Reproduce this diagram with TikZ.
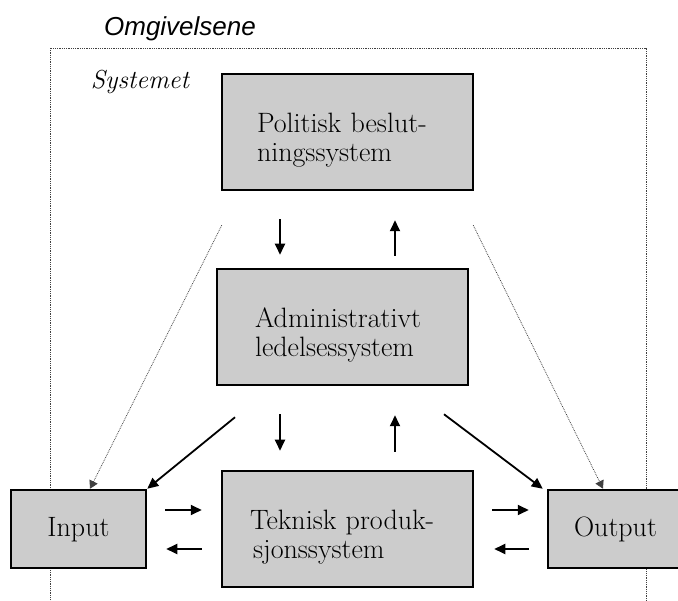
\documentclass[tikz,border=0pt]{standalone}
\usepackage{fontspec}
\newfontfamily\omgfont{Liberation Sans}
\usetikzlibrary{arrows.meta}

\begin{document}
\begin{tikzpicture}[x=1pt,y=-1pt,>={Triangle[length=11pt,width=10pt]},
	blokk/.style={draw,fill=gray!40,line width=2.5pt,minimum width=251pt,minimum height=116pt,inner xsep=0pt,align=left,text height=35pt,font=\fontsize{28}{29}\selectfont},
	endeblokk/.style={blokk,minimum width=135pt,minimum height=78pt,align=center,text height=20pt,text depth=4pt},
	pil/.style={->,line width=1.8pt},
	prikk/.style={-{Triangle[length=8pt,width=9pt]},densely dotted,line width=0.8pt,black!75},
	ramme/.style={densely dotted,line width=0.8pt,black!75}]

\useasboundingbox (0,0) rectangle (678,601);

\draw[ramme](50,48) rectangle (646,660);

\node[anchor=base,font=\omgfont\itshape\fontsize{26}{30}\selectfont](omg) at (180,36){Omgivelsene};
\node[anchor=base,font=\itshape\fontsize{26}{28}\selectfont](sys) at (140,89){Systemet};

\node[blokk,text width=181pt](pol) at (347.5,132){Politisk beslut-\\ningssystem};
\node[blokk,text width=175pt](adm) at (342.5,327){Administrativt\\ledelsessystem};
\node[blokk,text width=195pt](tek) at (347.5,529){Teknisk produk-\\\hspace*{3pt}sjonssystem};
\node[endeblokk](inp) at (78.5,529){Input};
\node[endeblokk](outp) at (615.5,529){Output};

% styring og tilbakemelding
\draw[pil]([xshift=-67.5pt,yshift=-28pt]pol.south) -- ([xshift=-62.5pt,yshift=13pt]adm.north);
\draw[pil]([xshift=52.5pt,yshift=12pt]adm.north) -- ([xshift=47.5pt,yshift=-29pt]pol.south);
\draw[pil]([xshift=-62.5pt,yshift=-28pt]adm.south) -- ([xshift=-67.5pt,yshift=19pt]tek.north);
\draw[pil]([xshift=47.5pt,yshift=18pt]tek.north) -- ([xshift=52.5pt,yshift=-29pt]adm.south);
\draw[pil]([xshift=-107.5pt,yshift=-31pt]adm.south) -- (inp.north east);
\draw[pil]([xshift=101.5pt,yshift=-28pt]adm.south) -- ([xshift=-4pt]outp.north west);

% strom gjennom produksjonen
\draw[pil]([xshift=18pt,yshift=19pt]inp.east) -- ([xshift=-19pt,yshift=19pt]tek.west);
\draw[pil]([xshift=-19pt,yshift=-20pt]tek.west) -- ([xshift=19pt,yshift=-20pt]inp.east);
\draw[pil]([xshift=18pt,yshift=19pt]tek.east) -- ([xshift=-18pt,yshift=19pt]outp.west);
\draw[pil]([xshift=-18pt,yshift=-20pt]outp.west) -- ([xshift=20pt,yshift=-20pt]tek.east);

\draw[prikk]([xshift=1pt,yshift=-34pt]pol.south west) -- ([xshift=11.5pt]inp.north);
\draw[prikk]([xshift=-1pt,yshift=-34pt]pol.south east) -- ([xshift=-12.5pt]outp.north);

\end{tikzpicture}
\end{document}
